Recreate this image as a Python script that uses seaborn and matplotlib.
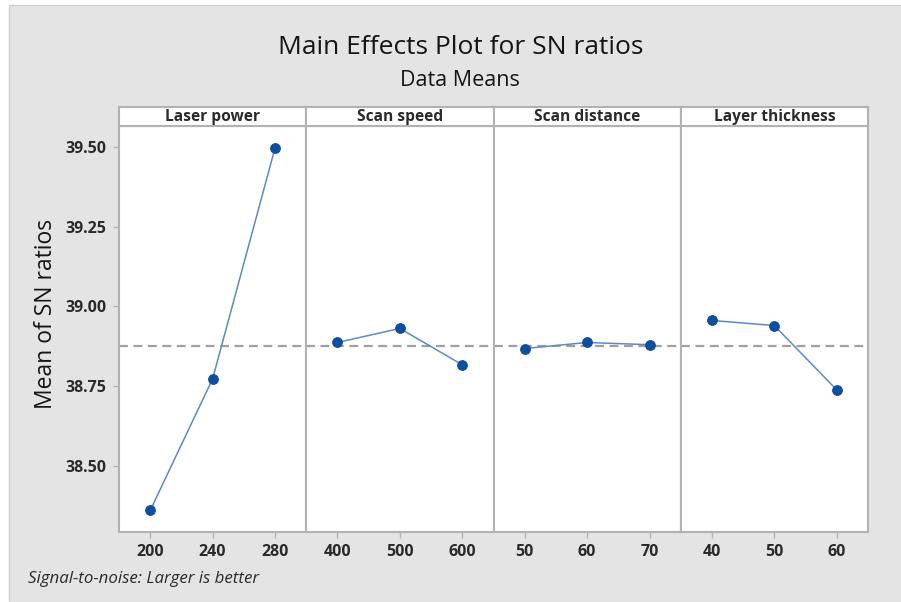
import numpy as np
import pandas as pd
import matplotlib
matplotlib.use('Agg')
import matplotlib.pyplot as plt
import seaborn as sns
from matplotlib.patches import Rectangle

# Datos (medias de razones S/N por nivel)
factores = ['Laser power', 'Scan speed', 'Scan distance', 'Layer thickness']
niveles_laser = ['200', '240', '280']
niveles_speed = ['400', '500', '600']
niveles_distance = ['50', '60', '70']
niveles_layer = ['40', '50', '60']
sn_laser = [38.36, 38.773, 39.497]
sn_speed = [38.887, 38.931, 38.817]
sn_distance = [38.868, 38.887, 38.880]
sn_layer = [38.956, 38.940, 38.738]
media_global = 38.877
y_ticks = [38.50, 38.75, 39.00, 39.25, 39.50]

niveles = [niveles_laser, niveles_speed, niveles_distance, niveles_layer]
valores = [sn_laser, sn_speed, sn_distance, sn_layer]

sns.set_style('white')
plt.rcParams['font.family'] = ['Open Sans', 'DejaVu Sans']

color_fondo = '#e4e4e4'
color_borde = '#b2b2b2'
color_linea = '#5a8cc4'
color_punto = '#0d4f9e'
color_texto = '#2a2a2a'

fig = plt.figure(figsize=(9.01, 6.02), dpi=100)
fig.patch.set_facecolor('white')
# fondo gris (la captura tiene un margen blanco arriba y a la izquierda)
fondo = Rectangle((9 / 901, 0), 1, 1 - 5 / 602, transform=fig.transFigure,
                  facecolor=color_fondo, edgecolor='#d0d0d0', lw=1, zorder=-10)
fig.patches.append(fondo)

izq, der = 119 / 901, 868 / 901
abajo, arriba = 1 - 532 / 602, 1 - 126 / 602
alto_tira = 19 / 602
ancho = (der - izq) / 4

for i, (factor, niv, val) in enumerate(zip(factores, niveles, valores)):
    ax = fig.add_axes([izq + i * ancho, abajo, ancho, arriba - abajo])
    ax.set_facecolor('white')
    df = pd.DataFrame({'pos': np.arange(len(niv)), 'sn': val})
    sns.lineplot(data=df, x='pos', y='sn', ax=ax, color=color_linea, lw=1.1,
                 marker='o', markersize=7, markerfacecolor=color_punto,
                 markeredgecolor=color_punto, zorder=3)
    ax.axhline(media_global, color='#a0a0a0', lw=1.6, ls=(0, (4, 2.5)), zorder=2)
    ax.set_xlim(-0.5, len(niv) - 0.5)
    ax.set_ylim(38.2925, 39.566)
    ax.set_xticks(np.arange(len(niv)))
    ax.set_xticklabels(niv)
    ax.set_xlabel('')
    ax.set_ylabel('')
    ax.set_yticks(y_ticks)
    if i == 0:
        ax.set_yticklabels([f'{t:.2f}' for t in y_ticks])
    else:
        ax.tick_params(axis='y', left=False, labelleft=False)
    ax.tick_params(axis='both', direction='out', length=4, width=1, color=color_borde,
                   labelsize=11.5, labelcolor=color_texto, pad=5, bottom=True, left=(i == 0))
    for t in ax.get_xticklabels() + ax.get_yticklabels():
        t.set_fontweight('bold')
    for s in ax.spines.values():
        s.set_color(color_borde)
        s.set_linewidth(1.5)

    # tira con el nombre del factor
    tira = fig.add_axes([izq + i * ancho, arriba, ancho, alto_tira])
    tira.set_facecolor('white')
    tira.set_xticks([])
    tira.set_yticks([])
    for s in tira.spines.values():
        s.set_color(color_borde)
        s.set_linewidth(1.5)
    tira.text(0.5, 0.45, factor, ha='center', va='center', fontsize=11.2,
              fontweight='bold', color=color_texto, transform=tira.transAxes)

fig.text(0.511, 1 - 48 / 602, 'Main Effects Plot for SN ratios', ha='center', va='center',
         fontsize=19, color='#151515')
fig.text(0.511, 1 - 80 / 602, 'Data Means', ha='center', va='center',
         fontsize=15.5, color='#151515')
fig.text(46 / 901, 1 - 314 / 602, 'Mean of SN ratios', rotation=90, ha='center',
         va='center', fontsize=16.5, color='#151515')
fig.text(28 / 901, 1 - 579 / 602, 'Signal-to-noise: Larger is better', ha='left',
         va='center', fontsize=12.2, style='italic', color=color_texto)

fig.savefig('out.png', dpi=100, facecolor=fig.get_facecolor())
